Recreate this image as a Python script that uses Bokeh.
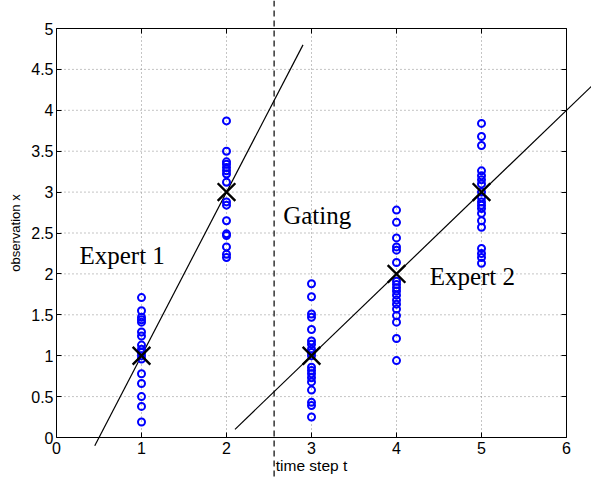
from bokeh.plotting import figure
from bokeh.models import LinearAxis, FixedTicker, Range1d, Span
from bokeh.core.properties import value
from bokeh.embed import file_html
from bokeh.resources import INLINE

# ---- data ----
obs_step1 = [1.71, 1.55, 1.47, 1.44, 1.41, 1.29, 1.24, 1.13, 1.08, 1.04, 1.00, 0.96, 0.78, 0.66, 0.50, 0.38, 0.19]
obs_step2 = [3.87, 3.50, 3.37, 3.34, 3.30, 3.26, 3.22, 3.12, 2.88, 2.84, 2.65, 2.49, 2.47, 2.33, 2.24, 2.20]
obs_step3 = [1.88, 1.72, 1.51, 1.47, 1.32, 1.18, 1.14, 1.08, 1.04, 1.00, 0.86, 0.82, 0.78, 0.73, 0.68, 0.58, 0.43, 0.39, 0.25]
obs_step4 = [2.78, 2.63, 2.44, 2.33, 2.29, 2.14, 1.91, 1.87, 1.83, 1.79, 1.74, 1.68, 1.63, 1.57, 1.49, 1.41, 1.21, 0.94]
obs_step5 = [3.84, 3.68, 3.57, 3.26, 3.20, 3.15, 3.10, 3.00, 2.93, 2.88, 2.84, 2.80, 2.74, 2.65, 2.57, 2.31, 2.25, 2.20, 2.13]
time_steps = [1, 2, 3, 4, 5]

center_t = [1, 2, 3, 4, 5]
center_x = [1, 3, 1, 2, 3]

expert1_t = [0.45, 2.9]
expert1_x = [-0.1, 4.8]
expert2_t = [2.1, 6.3]
expert2_x = [0.1, 4.3]
gate_t = 2.56

x_ticks = [0, 1, 2, 3, 4, 5, 6]
x_tick_labels = ["0", "1", "2", "3", "4", "5", "6"]
y_ticks = [0, 0.5, 1, 1.5, 2, 2.5, 3, 3.5, 4, 4.5, 5]
y_tick_labels = ["0", "0.5", "1", "1.5", "2", "2.5", "3", "3.5", "4", "4.5", "5"]

annot_text = ["Expert 1", "Gating", "Expert 2"]
annot_t = [0.27, 2.667, 4.39]
annot_x = [2.22, 2.72, 1.97]

# ---- build flat arrays ----
obs_cols = [obs_step1, obs_step2, obs_step3, obs_step4, obs_step5]
pts_t, pts_x = [], []
for t, col in zip(time_steps, obs_cols):
    pts_t += [t] * len(col)
    pts_x += col

X0, X1 = x_ticks[0], x_ticks[-1]
Y0, Y1 = y_ticks[0], y_ticks[-1]

p = figure(width=591, height=479, output_backend="svg", toolbar_location=None,
           x_axis_type=None, y_axis_type=None,
           x_range=Range1d(-0.6588, 6.294), y_range=Range1d(-0.5134, 5.3423),
           min_border=0, min_border_left=0, min_border_right=0,
           min_border_top=0, min_border_bottom=0)
p.outline_line_color = None
p.background_fill_color = "white"
p.border_fill_color = "white"

# dotted grid
gx = x_ticks[1:-1]
p.segment(x0=gx, y0=[Y0] * len(gx), x1=gx, y1=[Y1] * len(gx),
          line_color="#8a8a8a", line_width=1, line_dash="1 3")
gy = y_ticks[1:-1]
p.segment(x0=[X0] * len(gy), y0=gy, x1=[X1] * len(gy), y1=gy,
          line_color="#8a8a8a", line_width=1, line_dash="1 3")

# gating line
p.add_layout(Span(location=gate_t, dimension="height", line_color="black",
                  line_width=1.2, line_dash="6 4"))

# annotations
p.text(x=annot_t, y=annot_x, text=annot_text, text_font=value("Liberation Serif"),
       text_font_size="25px", text_color="black", text_align="left",
       text_baseline="alphabetic")

# expert lines
p.line(expert1_t, expert1_x, line_color="black", line_width=1.2)
p.line(expert2_t, expert2_x, line_color="black", line_width=1.2)

# observations
p.scatter(pts_t, pts_x, marker="circle", size=7, fill_color=None,
          line_color="#0000ff", line_width=2)

# expert centers
p.scatter(center_t, center_x, marker="x", size=25, line_color="black", line_width=2.4)

def style_axis(ax):
    ax.axis_line_color = "black"
    ax.axis_line_width = 1
    ax.major_tick_line_color = "black"
    ax.major_tick_in = 5
    ax.major_tick_out = 0
    ax.minor_tick_line_color = None
    ax.major_label_text_font = "Liberation Sans"
    ax.major_label_text_font_size = "16px"
    ax.major_label_text_color = "black"
    ax.axis_label_text_font = "Liberation Sans"
    ax.axis_label_text_font_style = "normal"
    ax.axis_label_text_color = "black"

xaxis = LinearAxis(fixed_location=Y0, bounds=(X0, X1), ticker=FixedTicker(ticks=x_ticks),
                   major_label_overrides=dict(zip(x_ticks, x_tick_labels)),
                   axis_label="time step t")
style_axis(xaxis)
xaxis.major_label_standoff = 4
xaxis.axis_label_standoff = 0
xaxis.axis_label_text_font_size = "15.5px"
p.add_layout(xaxis, "below")

yaxis = LinearAxis(fixed_location=X0, bounds=(Y0, Y1), ticker=FixedTicker(ticks=y_ticks),
                   major_label_overrides=dict(zip(y_ticks, y_tick_labels)),
                   axis_label="observation x")
style_axis(yaxis)
yaxis.major_label_standoff = 3
yaxis.axis_label_standoff = 5
yaxis.axis_label_text_font_size = "13px"
p.add_layout(yaxis, "left")

top = LinearAxis(fixed_location=Y1, bounds=(X0, X1), ticker=FixedTicker(ticks=x_ticks))
style_axis(top)
top.major_label_text_color = None
p.add_layout(top, "above")

right = LinearAxis(fixed_location=X1, bounds=(Y0, Y1), ticker=FixedTicker(ticks=y_ticks))
style_axis(right)
right.major_label_text_color = None
p.add_layout(right, "right")

open("out.html", "w").write(file_html(p, INLINE))
